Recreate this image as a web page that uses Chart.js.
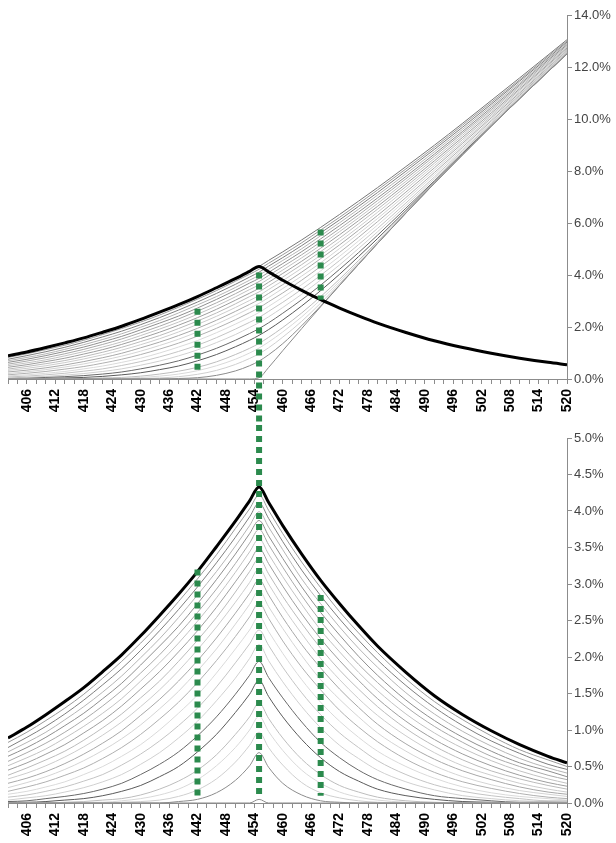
<!DOCTYPE html>
<html>
<head>
<meta charset="utf-8">
<script src="https://cdn.jsdelivr.net/npm/chart.js@4.4.0/dist/chart.umd.min.js"></script>
<style>
  html, body { margin: 0; padding: 0; background: #ffffff; }
  #wrap { position: relative; width: 616px; height: 843px; }
  #upper { position: absolute; left: 0; top: 0; }
  #lower { position: absolute; left: 0; top: 425px; }
</style>
</head>
<body>
<div id="wrap">
  <canvas id="upper" width="616" height="425"></canvas>
  <canvas id="lower" width="616" height="418"></canvas>
</div>
<script>
// Strike grid shared by every curve
const strikes = [402, 406, 410, 414, 418, 422, 426, 430, 434, 438, 442, 446, 450, 453, 455,
                 457, 460, 464, 468, 472, 476, 480, 486, 492, 498, 504, 510, 516, 520];

// Intrinsic value (% of price) at each strike
const intrinsic = [0, 0, 0, 0, 0, 0, 0, 0, 0, 0, 0, 0, 0, 0, 0,
                   0.44, 1.09, 1.94, 2.78, 3.60, 4.41, 5.21, 6.38, 7.52, 8.63, 9.72, 10.78, 11.82, 12.50];

// Time value (%) for each maturity step, shortest first
const tv0  = [0, 0, 0, 0, 0, 0, 0, 0, 0, 0, 0, 0, 0, 0, 0.05, 0, 0, 0, 0, 0, 0, 0, 0, 0, 0, 0, 0, 0, 0];
const tv1  = [0, 0, 0, 0, 0, 0, 0, 0, 0, 0.02, 0.05, 0.14, 0.31, 0.51, 0.69, 0.49, 0.27, 0.11, 0.03, 0.01, 0, 0, 0, 0, 0, 0, 0, 0, 0];
const tv2  = [0, 0, 0, 0, 0, 0, 0.01, 0.02, 0.04, 0.09, 0.18, 0.33, 0.56, 0.79, 0.97, 0.76, 0.52, 0.28, 0.14, 0.07, 0.03, 0.01, 0, 0, 0, 0, 0, 0, 0];
const tv3  = [0, 0, 0, 0, 0.01, 0.01, 0.03, 0.06, 0.11, 0.19, 0.32, 0.51, 0.76, 1.00, 1.19, 0.98, 0.72, 0.45, 0.27, 0.15, 0.08, 0.04, 0.01, 0, 0, 0, 0, 0, 0];
const tv4  = [0, 0, 0, 0.01, 0.02, 0.04, 0.06, 0.11, 0.19, 0.30, 0.45, 0.66, 0.94, 1.18, 1.37, 1.16, 0.89, 0.60, 0.39, 0.24, 0.15, 0.08, 0.03, 0.01, 0, 0, 0, 0, 0];
const tv6  = [0.01, 0.01, 0.02, 0.04, 0.06, 0.10, 0.16, 0.24, 0.36, 0.50, 0.70, 0.94, 1.24, 1.49, 1.68, 1.46, 1.18, 0.87, 0.62, 0.43, 0.30, 0.19, 0.10, 0.05, 0.02, 0.01, 0, 0, 0];
const tv8  = [0.02, 0.03, 0.06, 0.09, 0.13, 0.19, 0.27, 0.39, 0.53, 0.70, 0.92, 1.18, 1.49, 1.75, 1.94, 1.72, 1.44, 1.11, 0.83, 0.62, 0.45, 0.32, 0.19, 0.10, 0.06, 0.03, 0.01, 0.01, 0.01];
const tv10 = [0.04, 0.07, 0.10, 0.15, 0.21, 0.29, 0.39, 0.53, 0.69, 0.89, 1.12, 1.40, 1.71, 1.98, 2.17, 1.95, 1.66, 1.32, 1.03, 0.79, 0.61, 0.45, 0.29, 0.18, 0.10, 0.06, 0.03, 0.02, 0.01];
const tv12 = [0.08, 0.11, 0.16, 0.22, 0.30, 0.39, 0.52, 0.67, 0.85, 1.06, 1.30, 1.59, 1.92, 2.18, 2.37, 2.16, 1.86, 1.51, 1.21, 0.96, 0.76, 0.58, 0.39, 0.25, 0.16, 0.10, 0.06, 0.03, 0.03];
const tv14 = [0.12, 0.16, 0.22, 0.29, 0.39, 0.50, 0.64, 0.80, 1.00, 1.23, 1.48, 1.78, 2.11, 2.37, 2.56, 2.35, 2.05, 1.69, 1.38, 1.12, 0.90, 0.71, 0.50, 0.34, 0.22, 0.14, 0.09, 0.06, 0.04];
const tv16 = [0.16, 0.22, 0.29, 0.38, 0.48, 0.61, 0.76, 0.94, 1.15, 1.38, 1.65, 1.95, 2.28, 2.55, 2.74, 2.53, 2.22, 1.86, 1.55, 1.27, 1.04, 0.84, 0.60, 0.42, 0.29, 0.20, 0.13, 0.08, 0.06];
const tv18 = [0.21, 0.28, 0.36, 0.46, 0.58, 0.72, 0.88, 1.07, 1.29, 1.53, 1.81, 2.11, 2.45, 2.72, 2.91, 2.69, 2.39, 2.02, 1.69, 1.42, 1.18, 0.96, 0.71, 0.51, 0.36, 0.25, 0.17, 0.12, 0.09];
const tv20 = [0.27, 0.34, 0.43, 0.54, 0.67, 0.82, 0.99, 1.20, 1.42, 1.67, 1.95, 2.26, 2.60, 2.87, 3.06, 2.85, 2.54, 2.17, 1.85, 1.56, 1.31, 1.08, 0.81, 0.60, 0.44, 0.32, 0.22, 0.15, 0.12];
const tv22 = [0.33, 0.41, 0.51, 0.63, 0.77, 0.93, 1.11, 1.32, 1.55, 1.81, 2.10, 2.41, 2.75, 3.02, 3.21, 3.00, 2.69, 2.32, 1.98, 1.69, 1.43, 1.20, 0.92, 0.69, 0.51, 0.38, 0.27, 0.19, 0.15];
const tv24 = [0.38, 0.48, 0.59, 0.71, 0.86, 1.03, 1.22, 1.44, 1.67, 1.94, 2.23, 2.54, 2.89, 3.17, 3.35, 3.14, 2.83, 2.46, 2.12, 1.82, 1.56, 1.32, 1.02, 0.78, 0.59, 0.44, 0.33, 0.24, 0.19];
const tv26 = [0.45, 0.55, 0.67, 0.80, 0.96, 1.13, 1.33, 1.56, 1.80, 2.07, 2.36, 2.68, 3.03, 3.30, 3.49, 3.28, 2.97, 2.59, 2.25, 1.95, 1.68, 1.43, 1.12, 0.87, 0.67, 0.51, 0.38, 0.28, 0.23];
const tv28 = [0.51, 0.62, 0.74, 0.89, 1.05, 1.23, 1.43, 1.67, 1.92, 2.19, 2.49, 2.81, 3.16, 3.44, 3.62, 3.41, 3.10, 2.72, 2.37, 2.07, 1.79, 1.54, 1.22, 0.96, 0.75, 0.58, 0.44, 0.33, 0.27];
const tv30 = [0.57, 0.69, 0.82, 0.97, 1.14, 1.33, 1.54, 1.78, 2.03, 2.31, 2.61, 2.93, 3.28, 3.56, 3.75, 3.54, 3.23, 2.84, 2.49, 2.18, 1.90, 1.65, 1.32, 1.05, 0.83, 0.64, 0.50, 0.38, 0.32];
const tv32 = [0.64, 0.76, 0.90, 1.06, 1.23, 1.43, 1.64, 1.89, 2.15, 2.42, 2.73, 3.06, 3.41, 3.69, 3.87, 3.66, 3.35, 2.96, 2.61, 2.30, 2.01, 1.75, 1.41, 1.13, 0.90, 0.71, 0.55, 0.44, 0.36];
const tv34 = [0.70, 0.83, 0.97, 1.14, 1.32, 1.52, 1.74, 1.99, 2.25, 2.54, 2.85, 3.17, 3.52, 3.80, 3.99, 3.78, 3.47, 3.07, 2.73, 2.41, 2.12, 1.86, 1.51, 1.22, 0.98, 0.78, 0.61, 0.48, 0.41];
const tv36 = [0.76, 0.90, 1.05, 1.22, 1.41, 1.62, 1.84, 2.09, 2.36, 2.65, 2.96, 3.29, 3.64, 3.92, 4.11, 3.90, 3.58, 3.19, 2.84, 2.52, 2.23, 1.96, 1.61, 1.31, 1.06, 0.85, 0.68, 0.53, 0.46];
const tv38 = [0.83, 0.97, 1.13, 1.30, 1.49, 1.71, 1.94, 2.19, 2.46, 2.76, 3.07, 3.40, 3.76, 4.03, 4.22, 4.01, 3.69, 3.30, 2.95, 2.62, 2.33, 2.06, 1.70, 1.39, 1.14, 0.92, 0.73, 0.59, 0.50];
const tv40 = [0.89, 1.04, 1.21, 1.39, 1.58, 1.80, 2.03, 2.29, 2.57, 2.86, 3.17, 3.51, 3.86, 4.14, 4.33, 4.12, 3.80, 3.41, 3.05, 2.73, 2.43, 2.15, 1.79, 1.47, 1.21, 0.99, 0.80, 0.64, 0.55];

// Labelled strikes on the horizontal axes
const strikeLabels = [406, 412, 418, 424, 430, 436, 442, 448, 454, 460, 466, 472, 478, 484, 490, 496, 502, 508, 514, 520];
const upperTicks = [0, 2, 4, 6, 8, 10, 12, 14];
const lowerTicks = [0, 0.5, 1, 1.5, 2, 2.5, 3, 3.5, 4, 4.5, 5];

// Dashed guide strikes and the value span they cover in each panel (null = runs on into the other panel)
const guideX = [442, 455, 468];
const upperFrom = [0.25, null, 3.05];
const upperTo = [2.7, 4.1, 5.75];
const lowerFrom = [0.1, 0.1, 0.1];
const lowerTo = [3.2, null, 2.85];

const timeValues = [tv0, tv1, tv2, tv3, tv4, tv6, tv8, tv10, tv12, tv14, tv16, tv18, tv20,
                    tv22, tv24, tv26, tv28, tv30, tv32, tv34, tv36, tv38, tv40];
const curveShades = ['#8a8a8a', '#8c8c8c', '#cfcfcf', '#d9d9d9', '#bdbdbd', '#5a5a5a', '#6a6a6a',
                     '#d0d0d0', '#c4c4c4', '#dadada', '#b0b0b0', '#d4d4d4', '#a8a8a8', '#cccccc',
                     '#bbbbbb', '#9e9e9e', '#c2c2c2', '#aaaaaa', '#8f8f8f', '#b5b5b5', '#7f7f7f',
                     '#9a9a9a', '#777777'];

Chart.defaults.font.family = "'Liberation Sans', Arial, sans-serif";

function lineSet(values, shift, color, width) {
  return {
    data: strikes.map((x, j) => ({ x: x, y: values[j] + (shift ? shift[j] : 0) })),
    borderColor: color,
    borderWidth: width,
    pointRadius: 0,
    pointHoverRadius: 0,
    cubicInterpolationMode: 'monotone',
    fill: false
  };
}

const guidePlugin = {
  id: 'guides',
  afterDraw(chart, args, opts) {
    const ctx = chart.ctx;
    const xs = chart.scales.x;
    const ys = chart.scales.y;
    ctx.save();
    ctx.strokeStyle = '#2b8a4d';
    ctx.lineWidth = 6;
    ctx.lineCap = 'butt';
    ctx.setLineDash([6, 5]);
    opts.at.forEach((v, k) => {
      const px = xs.getPixelForValue(v);
      const yTop = opts.to[k] === null ? 0 : ys.getPixelForValue(opts.to[k]);
      const yBot = opts.from[k] === null ? chart.height : ys.getPixelForValue(opts.from[k]);
      ctx.beginPath();
      ctx.moveTo(px, yTop);
      ctx.lineTo(px, yBot);
      ctx.stroke();
    });
    ctx.restore();
  }
};

function buildOptions(yMax, yStep, yTicks, padTop, xHeight, guides) {
  const axisGray = '#8c8c8c';
  return {
    responsive: false,
    animation: false,
    events: [],
    layout: { padding: { top: padTop, left: 8, right: 0, bottom: 0 } },
    plugins: { legend: { display: false }, tooltip: { enabled: false }, guides: guides },
    scales: {
      x: {
        type: 'linear',
        min: 402,
        max: 520,
        afterBuildTicks(scale) {
          const marks = [];
          for (let v = 402; v <= 520; v += 2) marks.push({ value: v });
          scale.ticks = marks;
        },
        afterFit(scale) { scale.height = xHeight; },
        grid: { drawOnChartArea: false, drawTicks: true, tickLength: 5, color: axisGray },
        border: { display: true, color: axisGray, width: 1 },
        ticks: {
          autoSkip: false,
          minRotation: 90,
          maxRotation: 90,
          padding: 5,
          color: '#000000',
          font: { size: 14, weight: 'bold' },
          callback: (v) => strikeLabels.includes(v) ? String(v) : ''
        }
      },
      y: {
        position: 'right',
        min: 0,
        max: yMax,
        afterBuildTicks(scale) { scale.ticks = yTicks.map(v => ({ value: v })); },
        afterFit(scale) { scale.width = 49; },
        grid: { drawOnChartArea: false, drawTicks: true, tickLength: 5, color: axisGray },
        border: { display: true, color: axisGray, width: 1 },
        ticks: {
          stepSize: yStep,
          padding: 2,
          color: '#444444',
          font: { size: 13 },
          callback: (v) => v.toFixed(1) + '%'
        }
      }
    }
  };
}

// Upper panel: option value (intrinsic + time value), longest-maturity time value in black
const upperSets = [lineSet(tv40, null, '#000000', 3)];
timeValues.forEach((tv, k) => upperSets.push(lineSet(tv, intrinsic, curveShades[k], 1)));

new Chart(document.getElementById('upper'), {
  type: 'line',
  data: { datasets: upperSets },
  options: buildOptions(14, 2, upperTicks, 15, 46, { at: guideX, from: upperFrom, to: upperTo }),
  plugins: [guidePlugin]
});

// Lower panel: time value alone
const lowerSets = [lineSet(tv40, null, '#000000', 3)];
timeValues.forEach((tv, k) => lowerSets.push(lineSet(tv, null, curveShades[k], 1)));

new Chart(document.getElementById('lower'), {
  type: 'line',
  data: { datasets: lowerSets },
  options: buildOptions(5, 0.5, lowerTicks, 13, 40, { at: guideX, from: lowerFrom, to: lowerTo }),
  plugins: [guidePlugin]
});
</script>
</body>
</html>
